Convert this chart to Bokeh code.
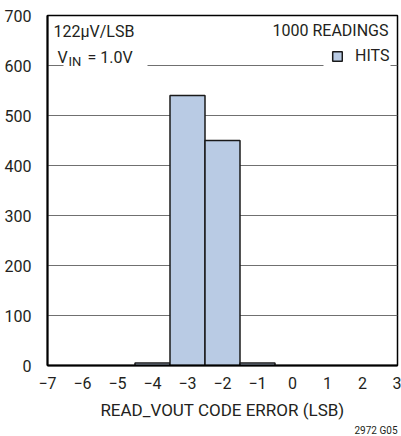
from bokeh.plotting import figure
from bokeh.models import (FixedTicker, Label, BoxAnnotation, Legend, LegendItem,
                          Title, ColumnDataSource)
from bokeh.embed import file_html
from bokeh.resources import INLINE

# ---- data ----
error_codes = [-4, -3, -2, -1]
hits = [5, 540, 450, 5]
x_ticks = [-7, -6, -5, -4, -3, -2, -1, 0, 1, 2, 3]
x_tick_labels = ["−7", "−6", "−5", "−4", "−3", "−2", "−1", "0", "1", "2", "3"]
y_ticks = [0, 100, 200, 300, 400, 500, 600, 700]

FONT = "Roboto"
TXT = "#231f20"
BAR = "#b9cbe4"

p = figure(width=401, height=436, x_range=(-7, 3), y_range=(0, 700),
           output_backend="svg", toolbar_location=None,
           min_border_left=47, min_border_right=4, min_border_top=15,
           min_border_bottom=71)
p.outline_line_color = "black"
p.outline_line_width = 1.5
p.background_fill_color = "white"

src = ColumnDataSource(dict(x=error_codes, top=hits))
r = p.vbar(x="x", top="top", width=1, source=src, fill_color=BAR,
           line_color="#1a1a1a", line_width=1.5)

p.xgrid.visible = False
p.ygrid.ticker = FixedTicker(ticks=y_ticks)
p.ygrid.grid_line_color = "#707070"
p.ygrid.grid_line_width = 1

p.yaxis.ticker = FixedTicker(ticks=y_ticks)
p.xaxis.ticker = FixedTicker(ticks=x_ticks)
p.xaxis.major_label_overrides = dict(zip(x_ticks, x_tick_labels))
for ax in p.axis:
    ax.axis_line_color = "black"
    ax.axis_line_width = 2
    ax.major_tick_line_color = None
    ax.minor_tick_line_color = None
    ax.major_label_text_font = FONT
    ax.major_label_text_font_size = "16px"
    ax.major_label_text_color = TXT
p.yaxis.major_label_standoff = 10
p.xaxis.major_label_standoff = 5
p.xaxis.axis_label = "READ_VOUT CODE ERROR (LSB)"
p.xaxis.axis_label_text_font = FONT
p.xaxis.axis_label_text_font_size = "17px"
p.xaxis.axis_label_text_font_style = "normal"
p.xaxis.axis_label_text_color = TXT
p.xaxis.axis_label_standoff = 8

# white gaps in the 600 gridline behind the texts
p.add_layout(BoxAnnotation(left=16, right=100, bottom=295, top=303,
                           left_units="screen", right_units="screen",
                           bottom_units="screen", top_units="screen",
                           fill_color="white", fill_alpha=1, line_alpha=0))
p.add_layout(BoxAnnotation(left=276, right=343, bottom=295, top=303,
                           left_units="screen", right_units="screen",
                           bottom_units="screen", top_units="screen",
                           fill_color="white", fill_alpha=1, line_alpha=0))

def lab(text, x, y, size="16px", align="left"):
    p.add_layout(Label(x=x, y=y, x_units="screen", y_units="screen", text=text,
                       text_font=FONT, text_font_size=size, text_color=TXT,
                       text_baseline="middle", text_align=align))

lab("122µV/LSB", 6, 334)
lab("1000 READINGS", 341, 335, align="right")
lab("V", 10, 308)
lab("IN", 21, 304, size="13px")
lab("= 1.0V", 40, 308)

legend = Legend(items=[LegendItem(label="HITS", renderers=[r])],
                location=(284, 300), padding=0, margin=0,
                glyph_width=12, glyph_height=12, label_standoff=12,
                background_fill_alpha=0, border_line_alpha=0,
                label_text_font=FONT, label_text_font_size="16px",
                label_text_color=TXT)
p.add_layout(legend)

p.add_layout(Title(text="2972 G05", align="right", text_font=FONT,
                   text_font_size="10px", text_font_style="normal",
                   text_color=TXT, standoff=0), "below")

open("out.html", "w").write(file_html(p, INLINE))
